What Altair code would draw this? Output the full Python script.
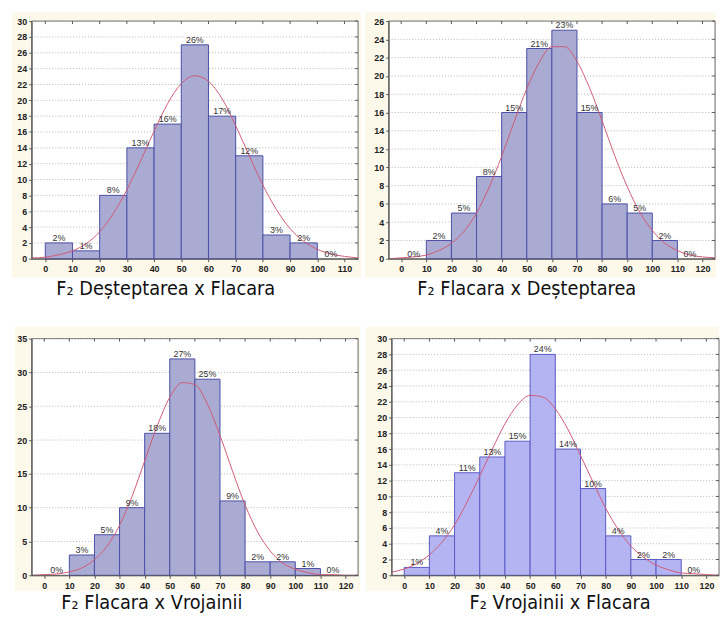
import altair as alt
import pandas as pd

# ---------------- data ----------------
starts1 = [0, 10, 20, 30, 40, 50, 60, 70, 80, 90, 100]
counts1 = [2, 1, 8, 14, 17, 27, 18, 13, 3, 2, 0]
pct1 = ["2%", "1%", "8%", "13%", "16%", "26%", "17%", "12%", "3%", "2%", "0%"]
curve_x1 = [-5, 0, 5, 10, 15, 20, 25, 30, 35, 40, 45, 50, 55, 60, 65, 70, 75, 80, 85, 90, 95, 100, 105, 110, 115]
curve_y1 = [0.1, 0.2, 0.5, 1.0, 1.9, 3.4, 5.7, 8.7, 12.3, 16.1, 19.6, 22.1, 23.1, 22.4, 20.2,
            16.8, 13.0, 9.3, 6.2, 3.8, 2.2, 1.2, 0.6, 0.3, 0.1]

starts2 = [0, 10, 20, 30, 40, 50, 60, 70, 80, 90, 100, 110]
counts2 = [0, 2, 5, 9, 16, 23, 25, 16, 6, 5, 2, 0]
pct2 = ["0%", "2%", "5%", "8%", "15%", "21%", "23%", "15%", "6%", "5%", "2%", "0%"]
curve_x2 = [-5, 0, 5, 10, 15, 20, 25, 30, 35, 40, 45, 50, 55, 60, 65, 70, 75, 80, 85, 90, 95, 100, 105, 110, 115, 120, 125]
curve_y2 = [0.0, 0.1, 0.2, 0.4, 0.9, 1.7, 3.0, 5.0, 7.8, 11.2, 15.0, 18.6, 21.5, 23.2, 23.2,
            21.6, 18.7, 15.1, 11.3, 7.9, 5.1, 3.1, 1.7, 0.9, 0.4, 0.2, 0.1]

starts3 = [0, 10, 20, 30, 40, 50, 60, 70, 80, 90, 100, 110]
counts3 = [0, 3, 6, 10, 21, 32, 29, 11, 2, 2, 1, 0]
pct3 = ["0%", "3%", "5%", "9%", "18%", "27%", "25%", "9%", "2%", "2%", "1%", "0%"]
curve_x3 = curve_x2
curve_y3 = [0.0, 0.1, 0.2, 0.5, 1.1, 2.3, 4.3, 7.4, 11.7, 16.9, 22.1, 26.3, 28.5, 28.2, 25.3,
            20.7, 15.4, 10.4, 6.4, 3.6, 1.8, 0.9, 0.4, 0.1, 0.1, 0.0, 0.0]

starts4 = [0, 10, 20, 30, 40, 50, 60, 70, 80, 90, 100, 110]
counts4 = [1, 5, 13, 15, 17, 28, 16, 11, 5, 2, 2, 0]
pct4 = ["1%", "4%", "11%", "13%", "15%", "24%", "14%", "10%", "4%", "2%", "2%", "0%"]
curve_x4 = curve_x2
curve_y4 = [0.4, 0.8, 1.5, 2.6, 4.2, 6.4, 9.3, 12.6, 16.0, 19.2, 21.6, 22.8, 22.6, 21.1, 18.5,
            15.2, 11.8, 8.5, 5.8, 3.7, 2.3, 1.3, 0.7, 0.3, 0.2, 0.1, 0.0]

xticks1 = [0, 10, 20, 30, 40, 50, 60, 70, 80, 90, 100, 110]
xticks2 = [0, 10, 20, 30, 40, 50, 60, 70, 80, 90, 100, 110, 120]
yticks1 = list(range(0, 31, 2))
yticks2 = list(range(0, 27, 2))
yticks3 = list(range(0, 36, 5))
yticks4 = list(range(0, 31, 2))

captions = ["F\u2082 De\u0219teptarea x Flacara", "F\u2082 Flacara x De\u0219teptarea",
            "F\u2082 Flacara x Vrojainii", "F\u2082 Vrojainii x Flacara"]

CREAM = "#fcf8ea"
HATCH_FILL = "#a9abd3"
HATCH_STROKE = "#4a4ea6"
PLAIN_FILL = "#b4b4f3"
PLAIN_STROKE = "#5a5ac6"
CURVE = "#d05a74"
LABEL_FONT = "Liberation Sans"
CAP_FONT = "Liberation Sans Narrow, DejaVu Sans Condensed, Liberation Sans, sans-serif"


def panel(starts, counts, pcts, cx, cy, xdom, xticks, ydom, yticks, W, H,
          fill, stroke, caption, cap_dx, cap_offset, cream):
    bars = pd.DataFrame({"x0": starts, "x1": [s + 10 for s in starts],
                         "xm": [s + 5 for s in starts], "n": counts,
                         "base": [0] * len(starts), "lab": pcts})
    curve = pd.DataFrame({"x": cx, "y": cy})
    xs = alt.Scale(domain=xdom, nice=False, zero=False)
    ys = alt.Scale(domain=ydom, nice=False)
    x_axis = alt.Axis(values=xticks, title=None, grid=False, labelFont=LABEL_FONT,
                      labelFontSize=9, labelFontWeight="bold", labelColor="#222",
                      tickSize=3, tickColor="#555", domainColor="#555", labelPadding=3,
                      labelFlush=False, zindex=1)
    y_axis = alt.Axis(values=yticks, title=None, grid=False, labelFont=LABEL_FONT,
                      labelFontSize=9, labelFontWeight="bold", labelColor="#222",
                      tickSize=3, tickColor="#555", domainColor="#555", labelPadding=2,
                      zindex=1)
    cl, cr, ct, cb = cream
    one = alt.Data(values=[{}])
    bg = alt.Chart(one).mark_rect(color=CREAM, clip=False).encode(
        x=alt.value(cl), x2=alt.value(W + cr), y=alt.value(ct), y2=alt.value(H + cb))
    plotbg = alt.Chart(one).mark_rect(fill="white", stroke="#666", strokeWidth=1).encode(
        x=alt.value(0), x2=alt.value(W), y=alt.value(0), y2=alt.value(H))
    grid = alt.Chart(pd.DataFrame({"v": yticks[1:]})).mark_rule(
        color="#b5b5b5", strokeDash=[1, 2], strokeWidth=1).encode(
        y=alt.Y("v:Q", scale=ys, axis=y_axis))
    bar = alt.Chart(bars[bars["n"] > 0]).mark_rect(fill=fill, stroke=stroke, strokeWidth=1).encode(
        x=alt.X("x0:Q", scale=xs, axis=x_axis), x2="x1:Q",
        y=alt.Y("n:Q", scale=ys, axis=y_axis), y2="base:Q")
    line = alt.Chart(curve).mark_line(color=CURVE, strokeWidth=1, interpolate="monotone",
                                      clip=True).encode(
        x=alt.X("x:Q", scale=xs, axis=x_axis), y=alt.Y("y:Q", scale=ys, axis=y_axis))
    text = alt.Chart(bars).mark_text(font=LABEL_FONT, fontSize=9, color="#333", dy=-5).encode(
        x=alt.X("xm:Q", scale=xs, axis=x_axis), y=alt.Y("n:Q", scale=ys, axis=y_axis),
        text="lab:N")
    top_ticks = alt.Chart(pd.DataFrame({"t": xticks})).mark_rule(color="#555").encode(
        x=alt.X("t:Q", scale=xs, axis=x_axis), y=alt.value(0), y2=alt.value(3))
    right_ticks = alt.Chart(pd.DataFrame({"v": yticks})).mark_rule(color="#555").encode(
        y=alt.Y("v:Q", scale=ys, axis=y_axis), x=alt.value(W - 3), x2=alt.value(W))
    return alt.layer(bg, plotbg, grid, bar, line, text, top_ticks, right_ticks).properties(
        width=W, height=H,
        title=alt.TitleParams(text=caption, orient="bottom", anchor="start", frame="group",
                              dx=cap_dx, offset=cap_offset, font=CAP_FONT, fontSize=20,
                              fontWeight="normal", color="#111"))


p1 = panel(starts1, counts1, pct1, curve_x1, curve_y1, [-5, 115], xticks1, [0, 30], yticks1,
           331, 241, HATCH_FILL, HATCH_STROKE, captions[0], 25, 2, (-20, 3, -9, 19))
p2 = panel(starts2, counts2, pct2, curve_x2, curve_y2, [-5, 125], xticks2, [0, 26], yticks2,
           331, 241, HATCH_FILL, HATCH_STROKE, captions[1], 29, 2, (-24, 1, -9, 19))
p3 = panel(starts3, counts3, pct3, curve_x3, curve_y3, [-5, 125], xticks2, [0, 35], yticks3,
           331, 240, HATCH_FILL, HATCH_STROKE, captions[2], 30, 2, (-17, 2, -12, 16))
p4 = panel(starts4, counts4, pct4, curve_x4, curve_y4, [-5, 125], xticks2, [0, 30], yticks4,
           332, 240, PLAIN_FILL, PLAIN_STROKE, captions[3], 79, 2, (-26, 0, -12, 16))

row1 = alt.hconcat(p1, p2, spacing=4)
row2 = alt.hconcat(p3, p4, spacing=6)
chart = alt.vconcat(row1, row2, spacing=28).properties(
    padding={"left": 4, "top": 0, "right": 0, "bottom": 0}, background="white"
).configure_view(stroke=None)

chart.save("out.html", embed_options={"renderer": "svg", "actions": False})
